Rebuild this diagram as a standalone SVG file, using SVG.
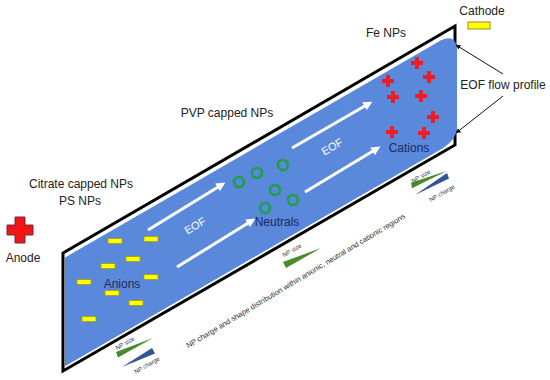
<svg xmlns="http://www.w3.org/2000/svg" xmlns:xlink="http://www.w3.org/1999/xlink" width="550" height="380" viewBox="0 0 550 380">
<defs>
<style>
.lbl{font-family:"Liberation Sans",Arial,sans-serif;font-size:12px;fill:#222;text-anchor:middle}
.ion{font-family:"Liberation Sans",Arial,sans-serif;font-size:12px;fill:#1c2a5c;text-anchor:middle}
.eof{font-family:"Liberation Sans",Arial,sans-serif;font-size:11px;fill:#ffffff;text-anchor:middle}
.tiny{font-family:"Liberation Sans",Arial,sans-serif;font-size:6px;fill:#333;text-anchor:middle}
.note{font-family:"Liberation Sans",Arial,sans-serif;font-size:7.5px;fill:#2a2a2a;text-anchor:middle}
.bar{fill:#ffff00;stroke:#a89a10;stroke-width:0.8}
.ring{fill:none;stroke:#1f9e48;stroke-width:2.6}
.cat{fill:#ee1c24}
.flow{stroke:#ffffff;stroke-width:3;fill:none;marker-end:url(#wh)}
.ptr{stroke:#111;stroke-width:1;fill:none;marker-end:url(#bk)}
.gw{fill:#4a8a2c}
.bw{fill:#2f5597}
</style>
<marker id="wh" viewBox="0 0 10 10" refX="7" refY="5" markerWidth="10" markerHeight="9" markerUnits="userSpaceOnUse" orient="auto">
<path d="M0,0 L10,5 L0,10 Z" fill="#ffffff"/>
</marker>
<marker id="bk" viewBox="0 0 10 10" refX="9" refY="5" markerWidth="5" markerHeight="5" markerUnits="userSpaceOnUse" orient="auto">
<path d="M0,0 L10,5 L0,10 Z" fill="#111"/>
</marker>
<path id="sc" d="M-2,-6 H2 V-2 H6 V2 H2 V6 H-2 V2 H-6 V-2 H-2 Z"/>
</defs>
<rect width="550" height="380" fill="#ffffff"/>

<g id="capillary">
<polygon points="63,253 455,26 455,145 63,371" fill="none" stroke="#000" stroke-width="3" stroke-linejoin="miter"/>
<path d="M65,257.5 L438,42 C450,35 457,38 457,52 L457,126 C457,136 452,142 442,148.7 L65,366.3 Z" fill="#5a89dc"/>
</g>

<g id="connectors">
<line class="flow" x1="148" y1="230" x2="223" y2="184"/>
<line class="flow" x1="177" y1="267" x2="253" y2="220"/>
<line class="flow" x1="292" y1="148" x2="370" y2="103"/>
<line class="flow" x1="305" y1="192" x2="378" y2="148"/>
<line class="ptr" x1="503" y1="74" x2="456" y2="45"/>
<line class="ptr" x1="503" y1="96" x2="456" y2="133"/>
</g>

<g id="eof-labels">
<text class="eof" transform="translate(197,229) rotate(-30)">EOF</text>
<text class="eof" transform="translate(334,150) rotate(-30)">EOF</text>
</g>

<g id="anions">
<rect class="bar" x="108" y="238.5" width="14" height="5"/>
<rect class="bar" x="144" y="236.5" width="14" height="5"/>
<rect class="bar" x="126" y="256.5" width="14" height="5"/>
<rect class="bar" x="101" y="263.5" width="14" height="5"/>
<rect class="bar" x="77" y="279.5" width="14" height="5"/>
<rect class="bar" x="144" y="274.5" width="14" height="5"/>
<rect class="bar" x="105" y="290.5" width="14" height="5"/>
<rect class="bar" x="129" y="300.5" width="14" height="5"/>
<rect class="bar" x="82" y="316.5" width="14" height="5"/>
<text class="ion" x="122" y="288">Anions</text>
</g>

<g id="neutrals">
<circle class="ring" cx="239" cy="182" r="5"/>
<circle class="ring" cx="257" cy="173" r="5"/>
<circle class="ring" cx="283" cy="165" r="5"/>
<circle class="ring" cx="275" cy="190" r="5"/>
<circle class="ring" cx="293" cy="200" r="5"/>
<circle class="ring" cx="265" cy="208" r="5"/>
<text class="ion" x="277" y="226">Neutrals</text>
</g>

<g id="cations">
<use href="#sc" xlink:href="#sc" class="cat" x="417" y="63"/>
<use href="#sc" xlink:href="#sc" class="cat" x="429" y="77"/>
<use href="#sc" xlink:href="#sc" class="cat" x="388" y="81"/>
<use href="#sc" xlink:href="#sc" class="cat" x="393" y="97"/>
<use href="#sc" xlink:href="#sc" class="cat" x="421" y="96"/>
<use href="#sc" xlink:href="#sc" class="cat" x="433" y="117"/>
<use href="#sc" xlink:href="#sc" class="cat" x="392" y="132"/>
<use href="#sc" xlink:href="#sc" class="cat" x="424" y="133"/>
<text class="ion" x="409" y="152">Cations</text>
</g>

<g id="anode">
<path transform="translate(20,230)" d="M-5,-13 H5 V-5 H13 V5 H5 V13 H-5 V5 H-13 V-5 H-5 Z" fill="#f01515" stroke="#6a2a48" stroke-width="1"/>
<text class="lbl" x="23" y="262">Anode</text>
</g>

<g id="cathode">
<text class="lbl" x="482" y="15">Cathode</text>
<rect x="468" y="22" width="22" height="7" fill="#ffff00" stroke="#9a9010" stroke-width="1"/>
</g>

<g id="np-labels">
<text class="lbl" x="81" y="188">Citrate capped NPs</text>
<text class="lbl" x="80" y="205">PS NPs</text>
<text class="lbl" x="227" y="117">PVP capped NPs</text>
<text class="lbl" x="386" y="37">Fe NPs</text>
<text class="lbl" x="503" y="89">EOF flow profile</text>
</g>

<g id="legend-left">
<polygon class="gw" points="116,352 118,357.5 153,338"/>
<polygon class="bw" points="122,367 152,348 155,353.5"/>
<text class="tiny" transform="translate(126,345) rotate(-30)">NP size</text>
<text class="tiny" transform="translate(148,367) rotate(-30)">NP charge</text>
</g>

<g id="legend-middle">
<polygon class="gw" points="283,262 286,268 321,248"/>
<text class="tiny" transform="translate(293,252) rotate(-30)">NP size</text>
</g>

<g id="legend-right">
<polygon class="gw" points="411,182.7 412,188.3 447.3,170.7"/>
<polygon class="bw" points="415,195 447,173 449,178.5"/>
<text class="tiny" transform="translate(422,178) rotate(-30)">NP size</text>
<text class="tiny" transform="translate(443,195) rotate(-30)">NP charge</text>
</g>

<text class="note" transform="translate(297,283) rotate(-31)">NP charge and shape distribution within anionic, neutral and cationic regions</text>
</svg>
